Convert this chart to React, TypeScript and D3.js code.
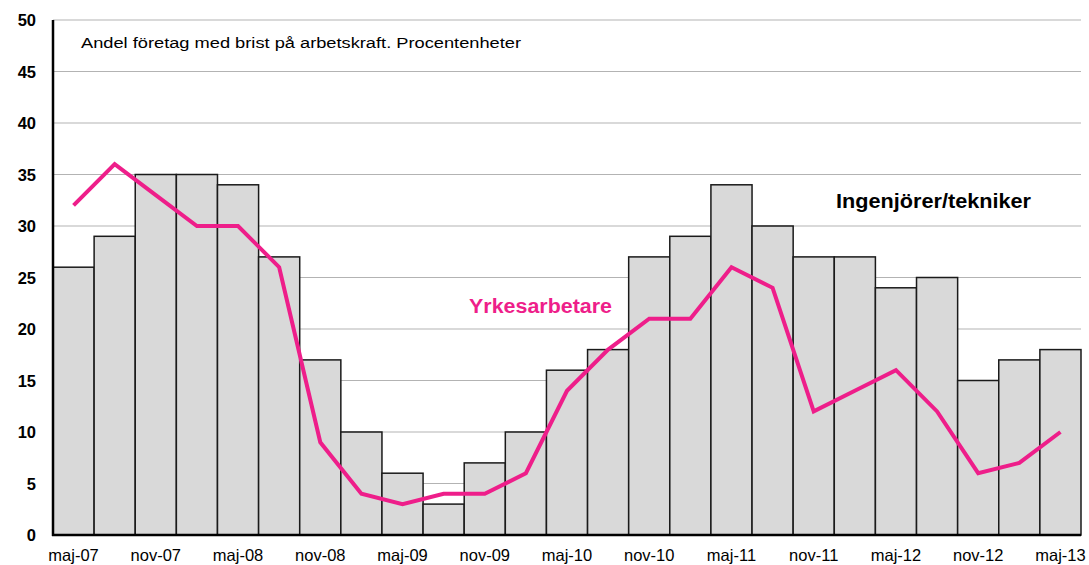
import React from "react";
import * as d3 from "d3";

// Kvartal maj-07 .. maj-13
const quarters = [
    "maj-07", "aug-07", "nov-07", "feb-08", "maj-08", "aug-08", "nov-08", "feb-09", "maj-09",
    "aug-09", "nov-09", "feb-10", "maj-10", "aug-10", "nov-10", "feb-11", "maj-11", "aug-11",
    "nov-11", "feb-12", "maj-12", "aug-12", "nov-12", "feb-13", "maj-13",
];
const ingenjorer = [26, 29, 35, 35, 34, 27, 17, 10, 6, 3, 7, 10, 16, 18, 27, 29, 34, 30, 27, 27, 24, 25, 15, 17, 18];
const yrkesarbetare = [32, 36, 33, 30, 30, 26, 9, 4, 3, 4, 4, 6, 14, 18, 21, 21, 26, 24, 12, 14, 16, 12, 6, 7, 10];
const yTicks = [0, 5, 10, 15, 20, 25, 30, 35, 40, 45, 50];
const xLabels = quarters.filter((_, i) => i % 2 === 0);

const PINK = "#EE1E8A";
const FONT = "'Liberation Sans', Arial, sans-serif";

const W = 1089;
const H = 565;
const M = { top: 20, right: 8, bottom: 30, left: 53 };

const App: React.FC = () => {
    const iW = W - M.left - M.right;
    const iH = H - M.top - M.bottom;

    const x = d3.scaleBand().domain(quarters).range([0, iW]).padding(0);
    const y = d3.scaleLinear().domain([0, 50]).range([iH, 0]);

    const line = d3.line<number>()
        .x((_, i) => x(quarters[i])! + x.bandwidth() / 2)
        .y((d) => y(d));

    return (
        <svg width={W} height={H} style={{ position: "absolute", left: 0, top: 0, display: "block" }}>
            <rect width={W} height={H} fill="#fff" />
            <g transform={`translate(${M.left},${M.top})`}>
                {/* Grid */}
                {yTicks.filter((t) => t > 0).map((t) => (
                    <line key={t} x1={0} x2={iW} y1={y(t)} y2={y(t)} stroke="#b3b3b3" strokeWidth={1.2} />
                ))}

                {/* Staplar */}
                {ingenjorer.map((v, i) => (
                    <rect
                        key={i}
                        x={x(quarters[i])!}
                        y={y(v)}
                        width={x.bandwidth()}
                        height={iH - y(v)}
                        fill="#d9d9d9"
                        stroke="#1a1a1a"
                        strokeWidth={1.5}
                    />
                ))}

                {/* Linje */}
                <path d={line(yrkesarbetare) ?? ""} fill="none" stroke={PINK} strokeWidth={4} strokeLinejoin="miter" />

                {/* Axlar */}
                <line x1={0} x2={0} y1={0} y2={iH + 1} stroke="#000" strokeWidth={2.5} />
                <line x1={-1} x2={iW} y1={iH} y2={iH} stroke="#000" strokeWidth={2.5} />

                {yTicks.map((t) => (
                    <text key={t} x={-17} y={y(t) + 6} textAnchor="end" fontFamily={FONT} fontWeight="bold" fontSize={16.5} fill="#000">
                        {t}
                    </text>
                ))}

                {xLabels.map((q) => (
                    <text key={q} x={x(q)! + x.bandwidth() / 2} y={iH + 26} textAnchor="middle" fontFamily={FONT} fontSize={16.5} fill="#000">
                        {q}
                    </text>
                ))}

                <text x={28} y={28} fontFamily={FONT} fontSize={15.5} fill="#000" textLength={440} lengthAdjust="spacingAndGlyphs">
                    Andel företag med brist på arbetskraft. Procentenheter
                </text>
                <text x={783} y={188} fontFamily={FONT} fontWeight="bold" fontSize={21} fill="#000" textLength={195} lengthAdjust="spacingAndGlyphs">
                    Ingenjörer/tekniker
                </text>
                <text x={416} y={293} fontFamily={FONT} fontWeight="bold" fontSize={20} fill={PINK} textLength={143} lengthAdjust="spacingAndGlyphs">
                    Yrkesarbetare
                </text>
            </g>
        </svg>
    );
};

export default App;
